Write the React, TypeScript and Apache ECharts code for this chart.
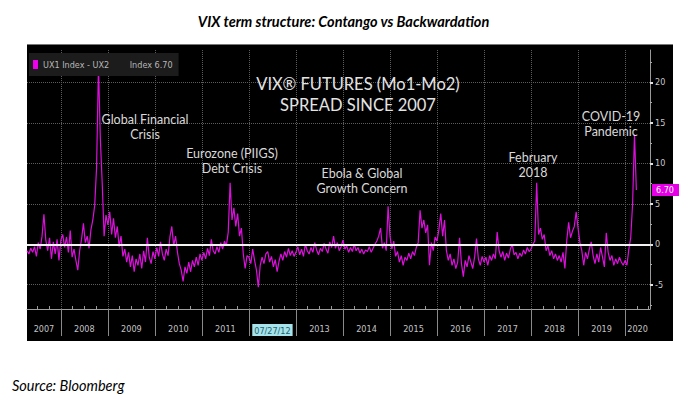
import React, { useEffect, useRef } from 'react';
import * as echarts from 'echarts';

// ---- data ----
const years = [2007, 2008, 2009, 2010, 2011, 2012, 2013, 2014, 2015, 2016, 2017, 2018, 2019, 2020];
const yearLabels = ['2007', '2008', '2009', '2010', '2011', '07/27/12', '2013', '2014', '2015', '2016', '2017', '2018', '2019', '2020'];
const highlightedLabel = '07/27/12';
const yTickValues = [-5, 0, 5, 10, 15, 20];
const yMinorTickValues = [-7.5, -2.5, 2.5, 7.5, 12.5, 17.5, 22.5];
const seriesName = 'UX1 Index - UX2';
const firstSampleDate = 2007.28;
const sampleStep = 0.04;
const xMin = 2007.28;
const xMax = 2020.53;
const yMin = -8;
const yMax = 24;

const spread2007 = [-0.8, -1.2, -0.5, -1.0, -0.3, -1.5, 0.2, -0.6, 1.0, 3.7, 0.5, -0.8, 0.8, -1.8, 0.3, -1.2, 0.6, -2.0];
const spread2008 = [0.5, 1.2, -0.4, 0.9, -1.0, 1.7, -1.6, -0.6, -2.0, -3.2, -0.8, 0.6, 2.6, 0.2, 1.0, -0.5, 1.8, 3.0, 4.8, 9.5, 22.0, 13.0, 7.5, 1.0, 3.6];
const spread2009 = [2.4, 4.0, 1.2, 3.2, 0.8, 2.2, -0.3, 1.0, -1.5, -0.6, -2.2, -1.0, -2.8, -1.4, -3.4, -1.8, -2.6, -1.2, -3.0, -0.8, -2.2, 0.8, -1.6, -2.4, -0.9];
const spread2010 = [-1.8, -0.4, -1.5, 0.3, -1.2, -2.0, -0.6, -1.4, 0.9, 2.2, -0.2, 1.0, -1.0, -2.4, -3.2, -4.6, -2.8, -3.6, -2.2, -3.4, -2.0, -2.8, -1.6, -2.6, -1.2];
const spread2011 = [-2.0, -1.0, -1.8, -0.5, -1.4, 0.6, -0.8, -1.2, -0.3, -1.0, 0.2, -0.6, 0.4, -0.2, 1.5, 7.6, 3.0, 4.5, 2.2, 3.8, 1.0, 2.0, -1.2, -3.0, -1.4];
const spread2012 = [-1.6, -2.4, -0.6, -2.0, -3.2, -5.3, -2.6, -1.6, -2.4, -1.2, -0.9, -2.2, -1.5, -2.8, -1.9, -3.4, -2.1, -1.2, -2.0, -0.9, -1.6, -0.5, -1.4, -0.8, -1.5];
const spread2013 = [-1.0, -0.3, -1.3, -0.6, -1.5, 0.0, -0.8, -1.2, -0.4, -1.0, 0.2, -0.7, -1.3, -0.5, -0.9, 0.1, -0.6, -1.1, 0.3, -0.4, 1.0, -0.5, 0.2, -0.8, -0.3];
const spread2014 = [0.5, -0.6, -0.2, -1.0, -0.4, -0.9, 0.0, -0.8, -0.4, -1.1, -0.6, -1.2, -0.7, -0.9, -0.3, -1.0, -0.5, 0.0, 0.4, 1.0, 2.0, -0.5, 0.2, -0.8, 4.7];
const spread2015 = [1.0, -0.6, 0.4, -1.5, -0.9, -2.2, -1.4, -2.6, -1.6, -2.0, -1.1, -1.8, -0.9, -1.4, -0.4, 0.2, 4.2, 2.0, 3.0, 1.4, 2.4, -2.6, 0.2, -0.8, 0.9];
const spread2016 = [0.4, 1.8, 3.8, 1.0, 3.0, -0.8, -2.0, -1.2, -2.6, -1.8, -3.0, -2.2, 0.8, -2.4, -4.0, -2.0, -2.8, -1.4, -2.2, -3.0, -1.6, 0.7, -1.8, -2.6, -1.5];
const spread2017 = [-2.2, -1.6, -2.6, -1.4, -2.0, -1.2, -1.8, 1.5, -0.8, -1.6, -0.9, -2.0, -1.1, -1.7, -0.6, 0.0, -1.3, -1.0, -1.8, -1.1, -1.5, -0.7, -1.2, -0.4, -0.9];
const spread2018 = [-0.6, 0.0, 0.4, 7.6, 1.2, 2.0, 0.6, 1.2, -0.8, -0.2, -1.4, -0.8, -1.8, -1.2, -2.0, -1.4, -2.2, -1.0, -3.0, 0.5, 2.7, 0.8, 1.6, 2.2, 4.0];
const spread2019 = [2.0, 0.2, -0.8, -2.6, -1.0, -1.8, -0.6, 0.3, -1.4, -2.4, -1.2, -2.2, -0.4, -1.6, -2.8, 1.4, -1.0, -2.0, -1.4, -2.6, -1.8, -2.4, -1.6, -2.2, -2.6];
const spread2020 = [-2.0, -2.6, -0.6, 0.8, 5.0, 13.6, 6.7];

const yearlySpread = [spread2007, spread2008, spread2009, spread2010, spread2011, spread2012, spread2013,
  spread2014, spread2015, spread2016, spread2017, spread2018, spread2019, spread2020];

const annotations = [
  { lines: ['Global Financial', 'Crisis'], x: 145, y: 119 },
  { lines: ['Eurozone (PIIGS)', 'Debt Crisis'], x: 232, y: 153 },
  { lines: ['Ebola & Global', 'Growth Concern'], x: 362, y: 173 },
  { lines: ['February', '2018'], x: 533, y: 157 },
  { lines: ['COVID-19', 'Pandemic'], x: 611, y: 116 },
];

const NARROW = '"Liberation Sans Narrow", "DejaVu Sans Condensed", "Roboto Condensed", Roboto, sans-serif';

export default function App() {
  const ref = useRef<HTMLDivElement>(null);
  useEffect(() => {
    if (!ref.current) return;
    const chart = echarts.init(ref.current, undefined, { renderer: 'svg' });

    const data: number[][] = [];
    yearlySpread.forEach((arr, k) => {
      const start = k === 0 ? firstSampleDate : years[k];
      arr.forEach((v, i) => data.push([+(start + i * sampleStep).toFixed(3), v]));
    });
    const lastValue = data[data.length - 1][1];

    const boundaries = years.slice(1);
    const labelPositions = years.map((y) => (Math.max(y, xMin) + Math.min(y + 1, xMax)) / 2);
    const quarterTicks: number[] = [];
    years.forEach((y) => [0.25, 0.5, 0.75].forEach((q) => {
      const v = y + q;
      if (v > xMin && v < xMax) quarterTicks.push(v);
    }));
    const gridY = yTickValues.filter((v) => v !== 0);

    const textEls: any[] = [];
    annotations.forEach((a) => {
      a.lines.forEach((line, i) => {
        textEls.push({
          type: 'text', x: a.x, y: a.y + i * 15.5, z: 20,
          style: { text: line, fill: '#d9d9d9', font: '12.5px Lato, sans-serif', align: 'center', verticalAlign: 'middle', textAlign: 'center', textVerticalAlign: 'middle' },
        });
      });
    });
    ['VIX\u00AE FUTURES (Mo1-Mo2)', 'SPREAD SINCE 2007'].forEach((line, i) => {
      textEls.push({
        type: 'text', x: 358, y: 84 + i * 21, z: 20,
        style: { text: line, fill: '#e4e4e4', font: '16.5px Lato, sans-serif', align: 'center', verticalAlign: 'middle', textAlign: 'center', textVerticalAlign: 'middle' },
      });
    });

    chart.setOption({
      animation: false,
      backgroundColor: '#ffffff',
      title: [
        {
          text: 'VIX term structure: Contango vs Backwardation', left: 'center', top: 9,
          textStyle: { fontFamily: 'Lato, sans-serif', fontStyle: 'italic', fontWeight: 'bold', fontSize: 14.5, color: '#000' },
        },
        {
          text: 'Source: Bloomberg', left: 7, top: 373,
          textStyle: { fontFamily: 'Lato, sans-serif', fontStyle: 'italic', fontWeight: 'normal', fontSize: 14.5, color: '#000' },
        },
      ],
      legend: {
        left: 29, top: 53, padding: [7, 6, 7, 4],
        backgroundColor: '#1c1c1c',
        icon: 'rect', itemWidth: 5, itemHeight: 9,
        textStyle: { color: '#b8b8b8', fontSize: 9, fontFamily: NARROW },
        formatter: (name: string) => name + '        Index ' + lastValue.toFixed(2),
        data: [seriesName],
      },
      graphic: [
        { type: 'rect', z: -10, shape: { x: 27, y: 44, width: 646, height: 297 }, style: { fill: '#000' } },
        { type: 'line', z: -9, shape: { x1: 27, y1: 44.5, x2: 673, y2: 44.5 }, style: { stroke: '#777', lineWidth: 1 } },
        ...textEls,
      ],
      grid: { left: 27, right: 37, top: 50, bottom: 86, containLabel: false },
      xAxis: [
        {
          type: 'value', min: xMin, max: xMax, position: 'bottom',
          axisLine: { show: true, onZero: false, lineStyle: { color: '#a0a0a0', width: 1 } },
          axisTick: { show: true, customValues: boundaries, length: 27, lineStyle: { color: '#8a8a8a', width: 1 } },
          axisLabel: {
            show: true, customValues: labelPositions, margin: 15, color: '#c4c4c4', fontSize: 9, fontFamily: NARROW,
            formatter: (v: number) => {
              let best = 0;
              labelPositions.forEach((p, i) => { if (Math.abs(p - v) < Math.abs(labelPositions[best] - v)) best = i; });
              const t = yearLabels[best];
              return t === highlightedLabel ? '{hl|' + t + '}' : t;
            },
            rich: {
              hl: { backgroundColor: '#a6e3ea', color: '#20606a', fontSize: 9, fontFamily: NARROW, padding: [2, 2, 1, 2] },
            },
          },
          splitLine: { show: false },
        },
        {
          type: 'value', min: xMin, max: xMax, position: 'bottom',
          axisLine: { show: false, onZero: false },
          axisTick: { show: true, customValues: quarterTicks, inside: true, length: 3, lineStyle: { color: '#9a9a9a' } },
          axisLabel: { show: false },
          splitLine: { show: false },
        },
      ],
      yAxis: [
        {
          type: 'value', min: yMin, max: yMax, position: 'right',
          axisLine: { show: true, onZero: false, lineStyle: { color: '#9a9a9a', width: 1 } },
          axisTick: { show: true, customValues: yTickValues, length: 3, lineStyle: { color: '#e0e0e0', width: 2 } },
          axisLabel: { show: true, customValues: yTickValues, margin: 5, color: '#c8c8c8', fontSize: 9, fontFamily: NARROW },
          splitLine: { show: false },
        },
        {
          type: 'value', min: yMin, max: yMax, position: 'right',
          axisLine: { show: false, onZero: false },
          axisTick: { show: true, customValues: yMinorTickValues, length: 2, lineStyle: { color: '#aaaaaa', width: 1 } },
          axisLabel: { show: false },
          splitLine: { show: false },
        },
        {
          type: 'value', min: yMin, max: yMax, position: 'right',
          axisLine: { show: false, onZero: false },
          axisTick: { show: false },
          axisLabel: {
            show: true, customValues: [lastValue], margin: 2, color: '#ffffff', fontSize: 9, fontFamily: NARROW,
            backgroundColor: '#e600e6', padding: [2, 5, 1, 4],
            formatter: (v: number) => v.toFixed(2),
          },
          splitLine: { show: false },
        },
      ],
      series: [
        {
          type: 'line', name: 'grid', data: [], xAxisIndex: 0, yAxisIndex: 0, z: 1,
          markLine: {
            silent: true, symbol: ['none', 'none'], z: 1, animation: false,
            label: { show: false },
            lineStyle: { color: '#5c5c5c', type: 'dotted', width: 1 },
            data: [...gridY.map((v) => ({ yAxis: v })), ...boundaries.map((b) => ({ xAxis: b }))],
          },
        },
        {
          type: 'line', name: seriesName, data, xAxisIndex: 0, yAxisIndex: 0, z: 3,
          showSymbol: false, symbol: 'none',
          itemStyle: { color: '#ee00ee' },
          lineStyle: { color: '#dc10dc', width: 1.2 },
          markLine: {
            silent: true, symbol: ['none', 'none'], z: 6, animation: false,
            label: { show: false },
            lineStyle: { color: '#f2f2f2', type: 'solid', width: 2 },
            data: [{ yAxis: 0 }],
          },
        },
      ],
    });
    return () => chart.dispose();
  }, []);
  return <div ref={ref} style={{ position: 'fixed', left: 0, top: 0, width: 687, height: 395 }} />;
}
